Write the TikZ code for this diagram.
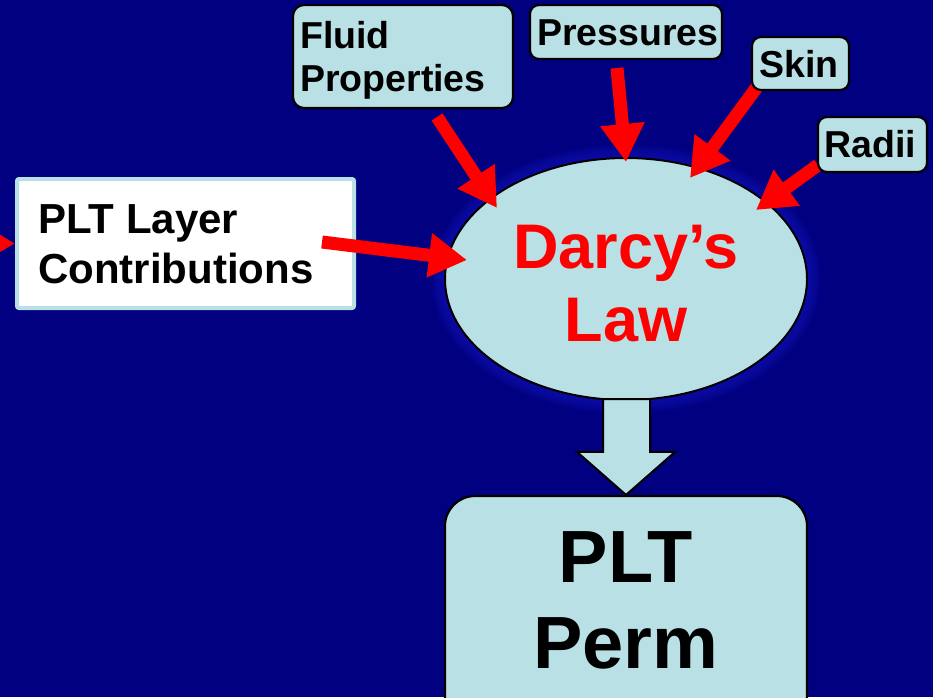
\documentclass[tikz,border=0pt]{standalone}
\usepackage{fontspec}
\setmainfont{Liberation Sans}
\usetikzlibrary{arrows.meta,shapes.geometric,calc}
\definecolor{navy}{RGB}{0,0,128}
\definecolor{lblue}{RGB}{185,224,228}
\definecolor{glowc}{RGB}{30,30,220}
\begin{document}
\begin{tikzpicture}[x=1pt,y=-1pt,
  box/.style={draw=black,line width=2.2pt,fill=lblue,rounded corners=11pt,inner sep=0pt},
  lbl/.style={anchor=base west,inner sep=0pt,text=black,font=\bfseries\fontsize{37.5}{44}\selectfont},
  redarr/.style={draw=red,line width=13pt,-{Triangle[length=38pt,width=42pt]}},
]
\clip (0,0) rectangle (933,697);
\fill[navy] (0,0) rectangle (933,697);

% glow round the ellipse
\foreach \r in {14,12,...,2}
  \fill[glowc,opacity=0.08] (626,279) ellipse ({181+\r} and {121+\r});

% Darcy's law ellipse
\node[ellipse,draw=black,line width=2pt,fill=lblue,minimum width=362pt,minimum height=242pt,inner sep=0pt] (darcy) at (626,279) {};
\node[anchor=base,inner sep=0pt,text=red,font=\bfseries\fontsize{63}{73}\selectfont] (darcyt1) at (626,268) {Darcy’s};
\node[anchor=base,inner sep=0pt,text=red,font=\bfseries\fontsize{63}{73}\selectfont] (darcyt2) at (626,341) {Law};

% PLT Perm box
\node[box,rounded corners=30pt,minimum width=362pt,minimum height=244pt] (perm) at (626,618) {};
\node[anchor=base,inner sep=0pt,font=\bfseries\fontsize{74}{88}\selectfont] (permt1) at (626,582) {PLT};
\node[anchor=base,inner sep=0pt,font=\bfseries\fontsize{74}{88}\selectfont] (permt2) at (626,668) {Perm};

% block arrow from ellipse to PLT Perm
\draw[line width=2pt,fill=lblue,line join=miter]
  ($(darcy.south)+(-23,-2)$) -- ($(darcy.south)+(24,-2)$) -- ($(perm.north)+(24,-43)$)
  -- ($(perm.north)+(49,-43)$) -- (perm.north) -- ($(perm.north)+(-49,-43)$)
  -- ($(perm.north)+(-23,-43)$) -- cycle;

% red arrows into the ellipse
\coordinate (fA) at (437,117); \coordinate (fB) at (497,208);
\coordinate (pA) at (617,68);  \coordinate (pB) at (626,162);
\coordinate (sA) at (757,87);  \coordinate (sB) at (690,178);
\coordinate (rA) at (818,165); \coordinate (rB) at (756,210);
\draw[redarr] (fA) -- (fB);
\draw[redarr] (pA) -- (pB);
\draw[redarr] (sA) -- (sB);
\draw[redarr] (rA) -- (rB);

% small input boxes
\node[box,minimum width=220pt,minimum height=103pt] (fluid) at (403,56.5) {};
\node[lbl] (fluidt1) at (300,48) {Fluid};
\node[lbl] (fluidt2) at (300,91) {Properties};

\node[box,rounded corners=9pt,minimum width=192pt,minimum height=54pt] (press) at (626,32) {};
\node[lbl] (presst) at (537,45) {Pressures};

\node[box,rounded corners=9pt,minimum width=97pt,minimum height=53pt] (skin) at (800.5,63.5) {};
\node[lbl] (skint) at (759,77) {Skin};

\node[box,rounded corners=9pt,minimum width=109pt,minimum height=55pt] (radii) at (872.5,144.5) {};
\node[lbl] (radiit) at (824,157) {Radii};

% PLT layer contributions box
\node[draw=lblue,line width=4pt,fill=white,rounded corners=2pt,minimum width=337pt,minimum height=129pt,inner sep=0pt] (layer) at (185.5,243.5) {};
\node[lbl,font=\bfseries\fontsize{42}{50}\selectfont] (layert1) at (38,233) {PLT Layer};
\node[lbl,font=\bfseries\fontsize{42}{50}\selectfont] (layert2) at (38,283) {Contributions};

\coordinate (lA) at (322,242); \coordinate (lB) at (467,260);
\draw[redarr] (lA) -- (lB);

% arrow coming in from the left edge
\coordinate (inA) at (-60,243);
\draw[redarr] (inA) -- (layer.west);
\end{tikzpicture}
\end{document}
